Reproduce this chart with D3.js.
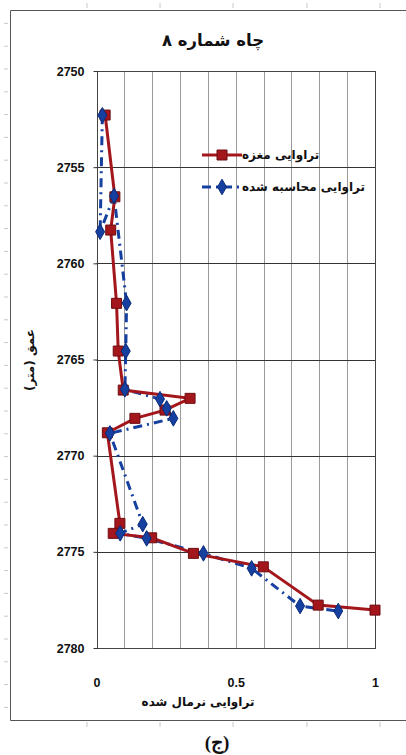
<!DOCTYPE html>
<html>
<head>
<meta charset="utf-8">
<script src="https://cdn.jsdelivr.net/npm/d3@7/dist/d3.min.js"></script>
<style>
  html, body { margin: 0; padding: 0; background: #fff; }
  svg { display: block; }
  .ar { font-family: "DejaVu Sans", "Noto Sans", sans-serif; font-weight: bold; }
  .num { font-family: "Liberation Sans", Arial, sans-serif; font-weight: bold; }
</style>
</head>
<body>
<svg id="chart" width="406" height="755"></svg>
<script>
// Core permeability (normalised) vs depth
const coreNorm  = [0.031, 0.066, 0.051, 0.072, 0.078, 0.096, 0.336, 0.246, 0.138, 0.039, 0.084, 0.060, 0.198, 0.348, 0.599, 0.796, 1.000];
const coreDepth = [2752.29, 2756.54, 2758.27, 2762.08, 2764.56, 2766.59, 2767.02, 2767.63, 2768.06, 2768.81, 2773.52, 2774.04, 2774.27, 2775.08, 2775.78, 2777.77, 2778.03];

// Calculated permeability (normalised) vs depth
const calcNorm  = [0.021, 0.013, 0.063, 0.108, 0.105, 0.102, 0.228, 0.252, 0.276, 0.048, 0.166, 0.085, 0.180, 0.384, 0.557, 0.731, 0.868];
const calcDepth = [2752.30, 2758.36, 2756.50, 2762.07, 2764.56, 2766.55, 2767.06, 2767.54, 2768.06, 2768.84, 2773.56, 2774.04, 2774.30, 2775.08, 2775.86, 2777.82, 2778.08];

const depthTicks = [2750, 2755, 2760, 2765, 2770, 2775, 2780];
const normTicks  = [0, 0.5, 1];
const normGrid   = [0.1, 0.2, 0.3, 0.4, 0.5, 0.6, 0.7, 0.8, 0.9];

const titleText   = "چاه شماره ۸";
const xTitleText  = "تراوایی نرمال شده";
const yTitleText  = "عمق (متر)";
const seriesNames = ["تراوایی مغزه", "تراوایی محاسبه شده"];
const captionText = "(ج)";

const RED = "#a3161c", RED_DARK = "#6e0d10";
const BLUE = "#1540a0", BLUE_DARK = "#0b2a78";

const svg = d3.select("#chart");

const x = d3.scaleLinear().domain([0, 1]).range([96.5, 375]);
const y = d3.scaleLinear().domain([2750, 2780]).range([71, 648]);

// faint page-ruler marks around the frame
const rul = svg.append("g").attr("stroke", "#c8c8c8").attr("stroke-width", 1);
[87, 160, 233, 307, 380].forEach(px => {
  rul.append("line").attr("x1", px).attr("x2", px).attr("y1", 3).attr("y2", 8);
  rul.append("line").attr("x1", px).attr("x2", px).attr("y1", 722).attr("y2", 727);
});
d3.range(0, 31).forEach(k => {
  const py = 23.4 + 22.8 * k;
  if (py < 718) rul.append("line").attr("x1", 4).attr("x2", 8).attr("y1", py).attr("y2", py);
});

// chart frame (right side runs off the page)
svg.append("path")
  .attr("d", "M420,10.5 H10.5 V720.5 H420")
  .attr("fill", "none").attr("stroke", "#555").attr("stroke-width", 1);

// vertical grid
svg.append("g").selectAll("line").data(normGrid).join("line")
  .attr("x1", d => Math.round(x(d)) + 0.5).attr("x2", d => Math.round(x(d)) + 0.5)
  .attr("y1", y(2750)).attr("y2", y(2780))
  .attr("stroke", "#9a9a9a").attr("stroke-width", 1);

// horizontal grid
svg.append("g").selectAll("line").data(depthTicks.slice(1, -1)).join("line")
  .attr("x1", x(0)).attr("x2", x(1))
  .attr("y1", d => Math.round(y(d)) + 0.5).attr("y2", d => Math.round(y(d)) + 0.5)
  .attr("stroke", "#333").attr("stroke-width", 1);

// plot border
svg.append("rect")
  .attr("x", Math.round(x(0)) + 0.5).attr("y", Math.round(y(2750)) + 0.5)
  .attr("width", Math.round(x(1)) - Math.round(x(0)))
  .attr("height", Math.round(y(2780)) - Math.round(y(2750)))
  .attr("fill", "none").attr("stroke", "#444").attr("stroke-width", 1);

// y axis
const yAxis = svg.append("g")
  .attr("transform", `translate(${Math.round(x(0)) + 0.5},0)`)
  .call(d3.axisLeft(y).tickValues(depthTicks).tickSize(4).tickPadding(9).tickFormat(d3.format("d")));
yAxis.select(".domain").remove();
yAxis.selectAll(".tick line").attr("stroke", "#333");
yAxis.selectAll(".tick text").attr("class", "num").attr("font-size", 12.5).attr("fill", "#111");

// x axis labels
const xAxis = svg.append("g")
  .attr("transform", `translate(0,${y(2780)})`)
  .call(d3.axisBottom(x).tickValues(normTicks).tickSize(0).tickPadding(30).tickFormat(d => String(d)));
xAxis.select(".domain").remove();
xAxis.selectAll(".tick text").attr("class", "num").attr("font-size", 12.5).attr("fill", "#111");

// lines
const line = d3.line().x(d => x(d[0])).y(d => y(d[1]));
const coreData = coreNorm.map((v, i) => [v, coreDepth[i]]);
const calcData = calcNorm.map((v, i) => [v, calcDepth[i]]);

svg.append("path").datum(calcData)
  .attr("d", line).attr("fill", "none")
  .attr("stroke", BLUE).attr("stroke-width", 3)
  .attr("stroke-dasharray", "9,5,2,5");

svg.append("path").datum(coreData)
  .attr("d", line).attr("fill", "none")
  .attr("stroke", RED).attr("stroke-width", 3);

const sq = d3.symbol().type(d3.symbolSquare).size(100);
const dm = d3.symbol().type(d3.symbolDiamond).size(70);

svg.append("g").selectAll("path").data(coreData).join("path")
  .attr("transform", d => `translate(${x(d[0])},${y(d[1])})`)
  .attr("d", sq).attr("fill", RED).attr("stroke", RED_DARK).attr("stroke-width", 1);

svg.append("g").selectAll("path").data(calcData).join("path")
  .attr("transform", d => `translate(${x(d[0])},${y(d[1])})`)
  .attr("d", dm).attr("fill", BLUE).attr("stroke", BLUE_DARK).attr("stroke-width", 1);

// legend
const lg = svg.append("g");
lg.append("line").attr("x1", 202).attr("x2", 242).attr("y1", 155).attr("y2", 155)
  .attr("stroke", RED).attr("stroke-width", 3);
lg.append("path").attr("transform", "translate(222,155)").attr("d", sq)
  .attr("fill", RED).attr("stroke", RED_DARK);
lg.append("line").attr("x1", 202).attr("x2", 242).attr("y1", 187).attr("y2", 187)
  .attr("stroke", BLUE).attr("stroke-width", 3).attr("stroke-dasharray", "9,5,2,5");
lg.append("path").attr("transform", "translate(222,187)").attr("d", dm)
  .attr("fill", BLUE).attr("stroke", BLUE_DARK);
lg.selectAll("text").data(seriesNames).join("text")
  .attr("class", "ar").attr("direction", "rtl")
  .attr("x", 242).attr("y", (d, i) => 159 + 32 * i)
  .attr("text-anchor", "end").attr("font-size", 12).attr("fill", "#111")
  .text(d => d);

// titles
svg.append("text").attr("class", "ar").attr("direction", "rtl")
  .attr("x", 213).attr("y", 46).attr("text-anchor", "middle")
  .attr("font-size", 16.5).attr("fill", "#111").text(titleText);

svg.append("text").attr("class", "ar").attr("direction", "rtl")
  .attr("x", 198).attr("y", 706).attr("text-anchor", "middle")
  .attr("font-size", 12).attr("fill", "#111").text(xTitleText);

svg.append("text").attr("class", "ar").attr("direction", "rtl")
  .attr("transform", "translate(34,360) rotate(-90)").attr("text-anchor", "middle")
  .attr("font-size", 12).attr("fill", "#111").text(yTitleText);

svg.append("text")
  .attr("x", 217).attr("y", 749).attr("text-anchor", "middle")
  .attr("font-family", "'Liberation Serif', 'DejaVu Serif', serif").attr("font-weight", "bold")
  .attr("font-size", 19).attr("fill", "#111").text(captionText);
</script>
</body>
</html>
